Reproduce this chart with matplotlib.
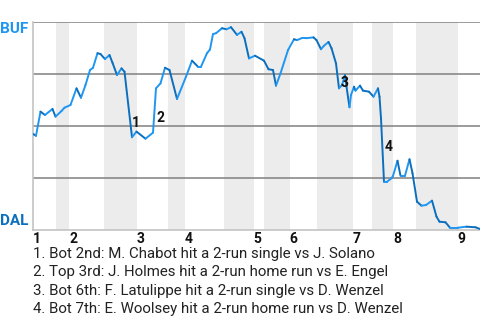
import numpy as np
import matplotlib.pyplot as plt

plt.rcParams['font.family'] = ['Roboto', 'DejaVu Sans']

# pitches in each half inning (top 1st, bot 1st, ... top 9th)
half_inning_len = [15, 9, 23, 22, 21, 11, 26, 20, 7, 17, 18, 24, 13, 14, 15, 28, 15]

# win probability for BUF, keyed by pitch number
wp_pitch = [0, 2, 5, 8, 13, 15, 19, 21, 25, 29, 32, 35, 38, 40, 43, 45, 48, 51, 53, 56,
            59, 61, 66, 69, 75, 80, 82, 85, 88, 91, 96, 102, 106, 110, 112, 116, 118, 120,
            122, 126, 129, 132, 136, 139, 141, 144, 148, 154, 157, 160, 162, 165, 170, 174,
            176, 179, 182, 187, 189, 192, 194, 197, 199, 202, 204, 206, 208, 209, 211, 212,
            214, 215, 218, 220, 224, 227, 230, 231, 232, 234, 236, 239, 240, 243, 245, 248,
            251, 253, 256, 259, 262, 266, 269, 271, 275, 278, 283, 289, 295, 298]
wp_value = [0.462, 0.453, 0.569, 0.553, 0.582, 0.545, 0.572, 0.588, 0.601, 0.681, 0.636,
            0.697, 0.769, 0.780, 0.850, 0.846, 0.822, 0.841, 0.804, 0.745, 0.777, 0.761,
            0.446, 0.473, 0.439, 0.468, 0.681, 0.705, 0.780, 0.769, 0.630, 0.737, 0.814,
            0.785, 0.785, 0.850, 0.868, 0.942, 0.946, 0.970, 0.965, 0.975, 0.938, 0.953,
            0.922, 0.825, 0.838, 0.814, 0.773, 0.769, 0.694, 0.753, 0.865, 0.917, 0.913,
            0.922, 0.922, 0.926, 0.913, 0.869, 0.886, 0.904, 0.874, 0.801, 0.681, 0.697,
            0.745, 0.689, 0.590, 0.649, 0.689, 0.670, 0.694, 0.670, 0.665, 0.641, 0.681,
            0.641, 0.537, 0.232, 0.232, 0.249, 0.260, 0.333, 0.261, 0.261, 0.340, 0.273,
            0.136, 0.117, 0.120, 0.141, 0.064, 0.040, 0.037, 0.011, 0.011, 0.016, 0.013,
            0.005]

events = ["1. Bot 2nd: M. Chabot hit a 2-run single vs J. Solano",
          "2. Top 3rd: J. Holmes hit a 2-run home run vs E. Engel",
          "3. Bot 6th: F. Latulippe hit a 2-run single vs D. Wenzel",
          "4. Bot 7th: E. Woolsey hit a 2-run home run vs D. Wenzel"]
event_x = [68.7, 85.3, 208, 237]
event_y = [0.514, 0.538, 0.709, 0.399]

light = '#1f96f2'
dark = '#0b6fbe'

fig = plt.figure(figsize=(4.8, 3.2), dpi=100)
ax = fig.add_axes([33/480, 1 - 230/320, 1 - 33/480, 208/320])

bounds = np.concatenate([[0], np.cumsum(half_inning_len)])
total = bounds[-1]
for i in range(len(half_inning_len)):
    if i % 2 == 1:
        ax.axvspan(bounds[i], bounds[i+1], color='#ececec', lw=0, zorder=0)

for yy in [0.25, 0.5, 0.75, 1.0]:
    ax.axhline(yy, color='#808080', lw=1.1, zorder=1)

for i in range(len(wp_pitch) - 1):
    c = light if wp_value[i+1] >= wp_value[i] else dark
    ax.plot(wp_pitch[i:i+2], wp_value[i:i+2], color=c, lw=1.4,
            solid_capstyle='round', zorder=3)

for k in range(len(events)):
    ax.text(event_x[k], event_y[k], str(k + 1), fontsize=10, fontweight='bold',
            ha='center', va='center', color='#111111', zorder=4)

ax.set_xlim(0, total)
ax.set_ylim(0, 1)
ax.set_xticks([])
ax.set_yticks([])
for s in ['top', 'right']:
    ax.spines[s].set_visible(False)
ax.spines['left'].set_color('#c4c4c4')
ax.spines['bottom'].set_color('#c4c4c4')
ax.spines['left'].set_linewidth(1.2)
ax.spines['bottom'].set_linewidth(1.2)

# team labels
ax.text(-3, 1.0, 'BUF', ha='right', va='top',
        fontsize=11, fontweight='bold', color=light, clip_on=False)
ax.text(-3, 0.01, 'DAL', ha='right', va='bottom',
        fontsize=11, fontweight='bold', color=dark, clip_on=False)

# inning numbers at start of each top half
for n in range(9):
    ax.text(bounds[2*n], -0.01, str(n + 1), ha='left', va='top', fontsize=10,
            fontweight='bold', color='#111111', clip_on=False)

for k, txt in enumerate(events):
    fig.text(33/480, 1 - (254 + 18.4*k)/320, txt, ha='left', va='center',
             fontsize=10.8, color='#222222')

fig.savefig('out.png', dpi=100)
